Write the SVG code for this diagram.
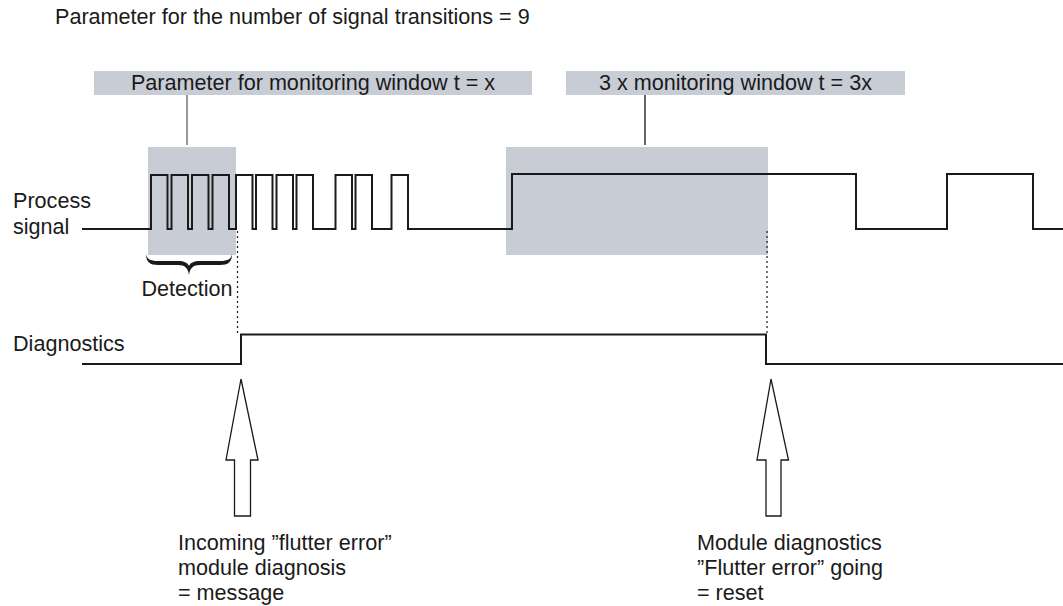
<svg xmlns="http://www.w3.org/2000/svg" width="1063" height="606" viewBox="0 0 1063 606">
<style>
  text { font-family: "Liberation Sans", Arial, sans-serif; font-size: 21.6px; fill: #1a1a1a; }
  .shade { fill: #c8ccd5; }
  .sig { stroke: #1a1a1a; stroke-width: 2; fill: none; stroke-linejoin: miter; }
  .dot { stroke: #1a1a1a; stroke-width: 1.2; stroke-dasharray: 2 3; fill: none; }
  .lead1 { stroke: #777; stroke-width: 1.5; }
  .lead2 { stroke: #333; stroke-width: 1.5; }
  .arrow { fill: #fff; stroke: #1a1a1a; stroke-width: 1.3; stroke-linejoin: miter; }
</style>
<rect width="1063" height="606" fill="#fff"/>

<text id="title" x="55" y="24">Parameter for the number of signal transitions = 9</text>

<g id="window-label">
  <rect class="shade" x="94" y="71" width="438" height="24"/>
  <text x="313" y="90" text-anchor="middle">Parameter for monitoring window t = x</text>
</g>
<g id="window3-label">
  <rect class="shade" x="566" y="71" width="339" height="24"/>
  <text x="735.5" y="90" text-anchor="middle">3 x monitoring window t = 3x</text>
</g>

<g id="detection-window">
  <rect class="shade" x="148" y="147" width="88" height="108"/>
</g>
<g id="window3-area">
  <rect class="shade" x="506" y="147" width="262" height="108"/>
</g>

<g id="process-signal">
  <text x="13" y="208">Process</text>
  <text x="13" y="234">signal</text>
  <path class="sig" d="M82,229 H151 V175 H167.5 V229 H171.5 V175 H188 V229 H192 V175 H208.5 V229 H212.5 V175 H229 V229 H236 V175 H252.5 V229 H256 V175 H272.5 V229 H276.5 V175 H293 V229 H296.5 V175 H313 V229 H335.5 V175 H352 V229 H355.5 V175 H372 V229 H391.5 V175 H408 V229 H512 V174 H856 V229 H947 V174 H1033 V229 H1063"/>
</g>

<g id="detection">
  <path d="M146,254 C146,262 150,265 158,265 L178,265 C185,265 188,268 189,275 C190,268 193,265 200,265 L220,265 C228,265 232,262 232,254 C231,259 228,261 220,261 L200,261 C194,261 190,263 189,266 C188,263 184,261 178,261 L158,261 C150,261 147,259 146,254 Z" fill="#1a1a1a"/>
  <text x="187" y="296" text-anchor="middle">Detection</text>
</g>

<g id="diagnostics">
  <text x="13" y="351">Diagnostics</text>
  <path class="sig" d="M82,364 H241 V334.5 H766 V364 H1063"/>
</g>

<g id="connectors">
  <line class="lead1" x1="187" y1="95" x2="187" y2="145"/>
  <line class="lead2" x1="645" y1="95" x2="645" y2="145"/>
  <line class="dot" x1="237.5" y1="231" x2="237.5" y2="334"/>
  <line class="dot" x1="767" y1="231" x2="767" y2="334"/>
</g>

<g id="arrow-incoming">
  <path class="arrow" d="M241,379 L258,460 H250.5 V516 H234.5 V460 H226 Z"/>
  <text x="178" y="550">Incoming ”flutter error”</text>
  <text x="178" y="575">module diagnosis</text>
  <text x="178" y="600">= message</text>
</g>

<g id="arrow-going">
  <path class="arrow" d="M771,379 L788.5,460 H781 V516 H766 V460 H757 Z"/>
  <text x="697" y="550">Module diagnostics</text>
  <text x="697" y="575">”Flutter error” going</text>
  <text x="697" y="600">= reset</text>
</g>
</svg>
